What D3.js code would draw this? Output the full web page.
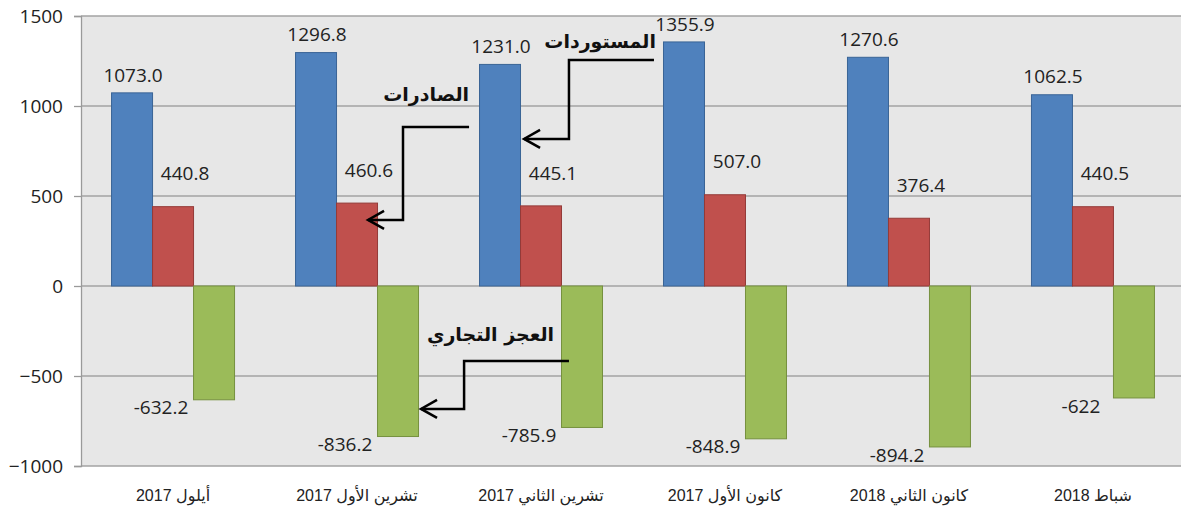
<!DOCTYPE html>
<meta charset="utf-8">
<script src="https://d3js.org/d3.v7.min.js"></script>
<style>
  body { margin: 0; background: #fff; }
</style>
<div id="my_dataviz"></div>
<script>

// categories (months) and series values
var months = ["أيلول 2017", "تشرين الأول 2017", "تشرين الثاني 2017", "كانون الأول 2017", "كانون الثاني 2018", "شباط 2018"]
var imports = [1073.0, 1296.8, 1231.0, 1355.9, 1270.6, 1062.5]
var exports = [440.8, 460.6, 445.1, 507.0, 376.4, 440.5]
var deficit = [-632.2, -836.2, -785.9, -848.9, -894.2, -622]
var importLabels = ["1073.0", "1296.8", "1231.0", "1355.9", "1270.6", "1062.5"]
var exportLabels = ["440.8", "460.6", "445.1", "507.0", "376.4", "440.5"]
var deficitLabels = ["-632.2", "-836.2", "-785.9", "-848.9", "-894.2", "-622"]
var yTicks = [-1000, -500, 0, 500, 1000, 1500]

var W = 1181, H = 511
var plot = {left: 81, right: 1185, top: 16, bottom: 466}

var series = [
  {key: "imp", values: imports, labels: importLabels, fill: "#4f81bd", stroke: "#3a6496"},
  {key: "exp", values: exports, labels: exportLabels, fill: "#c0504d", stroke: "#943b39"},
  {key: "def", values: deficit, labels: deficitLabels, fill: "#9bbb59", stroke: "#76913f"}
]

var svg = d3.select("#my_dataviz")
  .append("svg")
  .attr("width", W)
  .attr("height", H)

// scales
var x0 = d3.scaleBand()
  .domain(months)
  .range([plot.left, plot.right])
  .paddingInner(0.3315)
  .paddingOuter(0.166)

var x1 = d3.scaleBand()
  .domain(series.map(function(s) { return s.key }))
  .range([0, x0.bandwidth()])

var y = d3.scaleLinear()
  .domain([-1000, 1500])
  .range([plot.bottom, plot.top])

// position along category axis in "category units" (0..6), used for annotations
var xu = d3.scaleLinear().domain([0, months.length]).range([plot.left, plot.right])

// plot background
svg.append("rect")
  .attr("x", plot.left)
  .attr("y", plot.top)
  .attr("width", plot.right - plot.left)
  .attr("height", plot.bottom - plot.top)
  .style("fill", "#e7e7e7")

// gridlines
svg.append("g")
  .selectAll("line")
  .data(yTicks)
  .enter()
  .append("line")
    .attr("x1", plot.left)
    .attr("x2", W)
    .attr("y1", function(d) { return y(d) })
    .attr("y2", function(d) { return y(d) })
    .style("stroke", "#a3a3a3")
    .style("stroke-width", 1.3)

// y axis
var yAxis = svg.append("g")
  .attr("transform", "translate(" + plot.left + ",0)")
  .call(d3.axisLeft(y).tickValues(yTicks).tickFormat(d3.format("d")).tickSize(7).tickPadding(11))
yAxis.select(".domain").style("stroke", "#9a9a9a").style("stroke-width", 1.3)
yAxis.selectAll(".tick line").style("stroke", "#9a9a9a").style("stroke-width", 1.3)
yAxis.selectAll(".tick text")
  .style("font-family", "'Open Sans', sans-serif")
  .style("font-size", "19px")
  .style("fill", "#222")

// x axis labels
svg.append("g")
  .selectAll("text")
  .data(months)
  .enter()
  .append("text")
    .attr("x", function(d) { return x0(d) + x0.bandwidth() / 2 })
    .attr("y", 501)
    .attr("text-anchor", "middle")
    .style("font-family", "'Liberation Sans', 'DejaVu Sans', sans-serif")
    .style("font-size", "16px")
    .style("fill", "#222")
    .text(function(d) { return d })

// bars
series.forEach(function(s) {
  svg.append("g")
    .selectAll("rect")
    .data(s.values)
    .enter()
    .append("rect")
      .attr("x", function(d, i) { return x0(months[i]) + x1(s.key) })
      .attr("y", function(d) { return y(Math.max(0, d)) })
      .attr("width", x1.bandwidth())
      .attr("height", function(d) { return Math.abs(y(d) - y(0)) })
      .style("fill", s.fill)
      .style("stroke", s.stroke)
      .style("stroke-width", 1)
})

// value labels
var labelFont = "'Open Sans', sans-serif"
function addLabels(s, dx, dy) {
  svg.append("g")
    .selectAll("text")
    .data(s.values)
    .enter()
    .append("text")
      .attr("x", function(d, i) { return x0(months[i]) + x1(s.key) + x1.bandwidth() / 2 + dx })
      .attr("y", function(d) { return y(d) + dy })
      .attr("text-anchor", "middle")
      .attr("dy", "0.35em")
      .style("font-family", labelFont)
      .style("font-size", "19px")
      .style("fill", "#222")
      .text(function(d, i) { return s.labels[i] })
}
addLabels(series[0], 1, -18)
addLabels(series[1], 12, -33)
addLabels(series[2], -53, 8)

// annotations: text + elbow arrow, positioned in category units / data values
var notes = [
  {text: "المستوردات", tx: 3.125, tv: 1325, anchor: "end",
   path: [[3.114, 1256], [2.652, 1256], [2.652, 817], [2.408, 817]]},
  {text: "الصادرات", tx: 2.109, tv: 1030, anchor: "end",
   path: [[2.109, 883], [1.75, 883], [1.75, 367], [1.560, 367]]},
  {text: "العجز التجاري", tx: 2.571, tv: -305, anchor: "end",
   path: [[2.652, -417], [2.082, -417], [2.082, -683], [1.848, -683]]}
]

var line = d3.line()
  .x(function(p) { return xu(p[0]) })
  .y(function(p) { return y(p[1]) })

notes.forEach(function(n) {
  svg.append("text")
    .attr("x", xu(n.tx))
    .attr("y", y(n.tv))
    .attr("text-anchor", n.anchor)
    .style("font-family", "'DejaVu Sans', sans-serif")
    .style("font-weight", "bold")
    .style("font-size", "19px")
    .style("fill", "#111")
    .text(n.text)

  svg.append("path")
    .attr("d", line(n.path))
    .style("fill", "none")
    .style("stroke", "#000")
    .style("stroke-width", 2.5)

  // open arrow head pointing left
  var tip = n.path[n.path.length - 1]
  var tx = xu(tip[0]), ty = y(tip[1])
  svg.append("path")
    .attr("d", "M" + (tx + 16) + "," + (ty - 9) + "L" + tx + "," + ty + "L" + (tx + 16) + "," + (ty + 9))
    .style("fill", "none")
    .style("stroke", "#000")
    .style("stroke-width", 2.5)
})

</script>
